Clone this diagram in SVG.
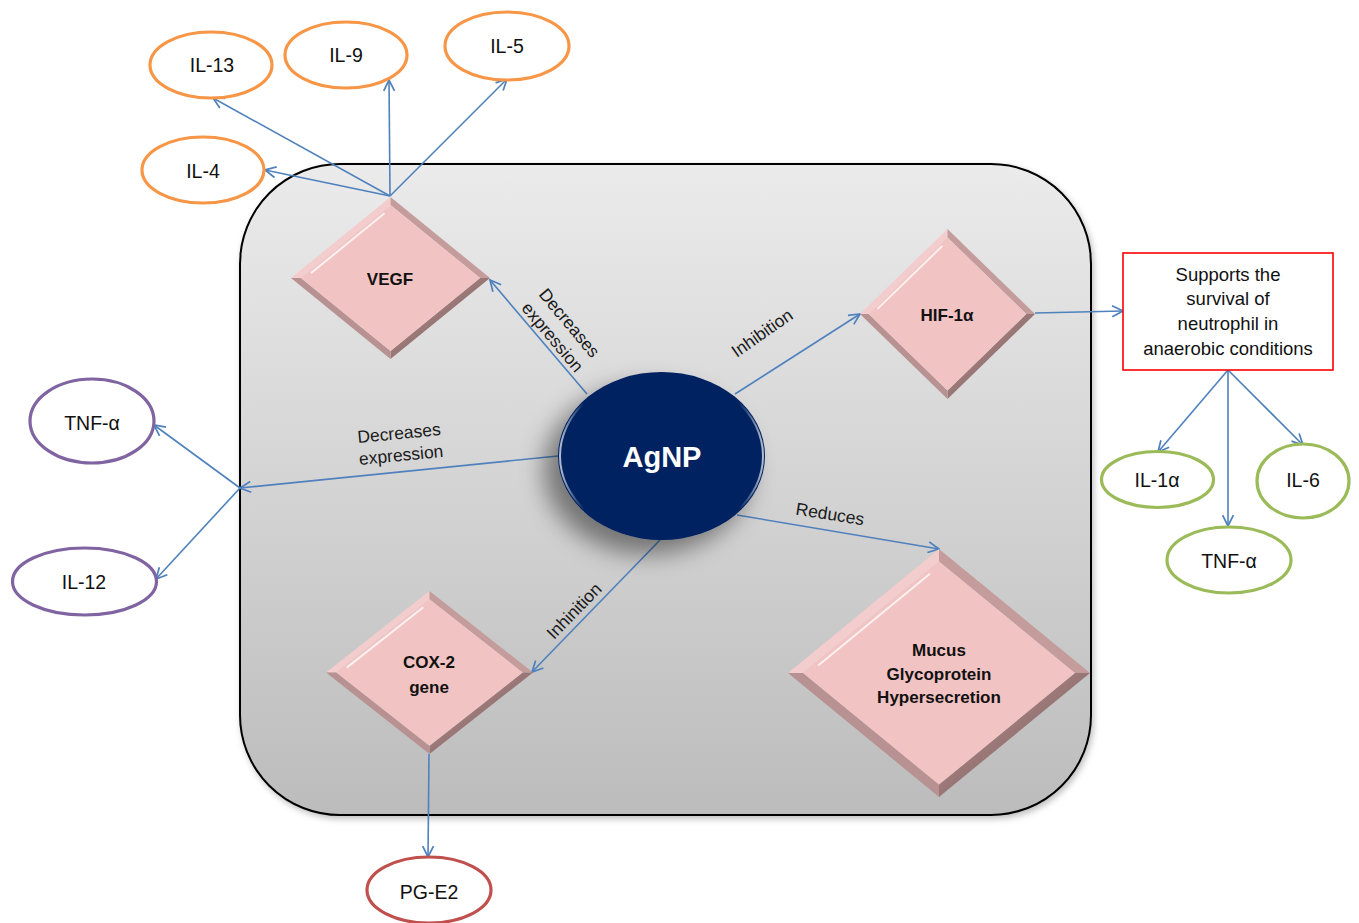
<svg xmlns="http://www.w3.org/2000/svg" xmlns:xlink="http://www.w3.org/1999/xlink" width="1359" height="923" viewBox="0 0 1359 923">
<style>
  text { font-family: "Liberation Sans", Arial, sans-serif; fill: #111; }
  .lbl { font-size: 19.5px; text-anchor: middle; dominant-baseline: central; }
  .bold { font-size: 17px; font-weight: bold; text-anchor: middle; dominant-baseline: central; }
  .edge-lbl { font-size: 17.5px; text-anchor: middle; dominant-baseline: central; fill: #1a1a1a; }
  .box-txt { font-size: 18.5px; text-anchor: middle; dominant-baseline: central; }
  .conn { stroke: #4f81bd; stroke-width: 1.6; fill: none; marker-end: url(#arr); }
  .orange { fill: #fff; stroke: #f79646; stroke-width: 3.2; }
  .purple { fill: #fff; stroke: #8064a2; stroke-width: 3.2; }
  .green { fill: #fff; stroke: #9bbb59; stroke-width: 3.2; }
  .red { fill: #fff; stroke: #c0504d; stroke-width: 3.2; }
</style>
<defs>
  <linearGradient id="bg" x1="0" y1="0" x2="0" y2="1">
    <stop offset="0" stop-color="#ebebeb"/>
    <stop offset="1" stop-color="#bcbcbc"/>
  </linearGradient>
  <linearGradient id="brg" x1="0" y1="0" x2="1" y2="1">
    <stop offset="0" stop-color="#c29b9b"/>
    <stop offset="1" stop-color="#6f5050"/>
  </linearGradient>
  <linearGradient id="rim" x1="0" y1="0" x2="1" y2="0">
    <stop offset="0" stop-color="#ffffff" stop-opacity="0.7"/>
    <stop offset="0.12" stop-color="#ffffff" stop-opacity="0"/>
    <stop offset="0.88" stop-color="#ffffff" stop-opacity="0"/>
    <stop offset="1" stop-color="#ffffff" stop-opacity="0.7"/>
  </linearGradient>
  <filter id="shadow" x="-40%" y="-40%" width="180%" height="180%">
    <feDropShadow dx="-14" dy="14" stdDeviation="12" flood-color="#000" flood-opacity="0.45"/>
  </filter>
  <filter id="soft" x="-10%" y="-10%" width="120%" height="120%">
    <feDropShadow dx="2" dy="3" stdDeviation="3" flood-color="#000" flood-opacity="0.25"/>
  </filter>
  <marker id="arr" viewBox="0 0 12 12" refX="11" refY="6" markerWidth="13" markerHeight="13" markerUnits="userSpaceOnUse" orient="auto">
    <path d="M1,1 L11,6 L1,11" fill="none" stroke="#4f81bd" stroke-width="1.6"/>
  </marker>
  <symbol id="dia" viewBox="-100 -100 200 200" preserveAspectRatio="none" overflow="visible">
    <polygon points="-100,0 0,-100 0,-90 -90,0" fill="#f3cdcd"/>
    <polygon points="0,-100 100,0 90,0 0,-90" fill="#c49c9c"/>
    <polygon points="100,0 0,100 0,90 90,0" fill="url(#brg)"/>
    <polygon points="0,100 -100,0 -90,0 0,90" fill="#b89292"/>
    <polygon points="0,-90 90,0 0,90 -90,0" fill="#f2c3c3"/>
    <line x1="-80" y1="-6" x2="-6" y2="-80" stroke="#ffffff" stroke-opacity="0.75" stroke-width="2" vector-effect="non-scaling-stroke"/>
  </symbol>
</defs>

<rect width="1359" height="923" fill="#ffffff"/>

<g id="cell">
  <rect x="240" y="164" width="851" height="651" rx="100" ry="100" fill="url(#bg)" stroke="#000" stroke-width="2" filter="url(#soft)"/>
</g>

<g id="connectors">
  <line class="conn" x1="587" y1="394" x2="490" y2="280"/>
  <line class="conn" x1="735" y1="394" x2="860" y2="314"/>
  <line class="conn" x1="737" y1="515" x2="939" y2="549"/>
  <line class="conn" x1="660" y1="540" x2="532" y2="672"/>
  <line class="conn" x1="558" y1="456" x2="240" y2="488"/>
  <line class="conn" x1="240" y1="488" x2="154" y2="425"/>
  <line class="conn" x1="240" y1="488" x2="156" y2="579"/>
  <line class="conn" x1="390" y1="196" x2="265" y2="170"/>
  <line class="conn" x1="390" y1="196" x2="213" y2="98"/>
  <line class="conn" x1="390" y1="196" x2="389" y2="80"/>
  <line class="conn" x1="390" y1="196" x2="507" y2="79"/>
  <line class="conn" x1="1035" y1="313" x2="1123" y2="311"/>
  <line class="conn" x1="1228" y1="370" x2="1158" y2="452"/>
  <line class="conn" x1="1228" y1="370" x2="1228" y2="526"/>
  <line class="conn" x1="1228" y1="370" x2="1303" y2="445"/>
  <line class="conn" x1="429" y1="754" x2="428" y2="857"/>
</g>

<g id="edge-labels">
  <text class="edge-lbl" transform="translate(561,330) rotate(50)"><tspan x="0" y="-11">Decreases</tspan><tspan x="0" y="11">expression</tspan></text>
  <text class="edge-lbl" transform="translate(400,444) rotate(-5.5)"><tspan x="0" y="-11">Decreases</tspan><tspan x="0" y="11">expression</tspan></text>
  <text class="edge-lbl" transform="translate(762,333) rotate(-35)">Inhibition</text>
  <text class="edge-lbl" transform="translate(830,514) rotate(9)">Reduces</text>
  <text class="edge-lbl" transform="translate(574,611) rotate(-46)">Inhinition</text>
</g>

<g id="agnp">
  <ellipse cx="661.5" cy="456" rx="103.5" ry="84" fill="#002060" filter="url(#shadow)"/>
  <ellipse cx="661.5" cy="456" rx="101.5" ry="82" fill="none" stroke="url(#rim)" stroke-width="2"/>
  <text x="662" y="457" font-size="29" font-weight="bold" text-anchor="middle" dominant-baseline="central" style="fill:#ffffff">AgNP</text>
</g>

<g id="vegf">
  <use href="#dia" x="291" y="197" width="199" height="162"/>
  <text class="bold" x="390" y="279">VEGF</text>
</g>

<g id="hif">
  <use href="#dia" x="860" y="229" width="175" height="170"/>
  <text class="bold" x="947" y="315">HIF-1α</text>
</g>

<g id="cox2">
  <use href="#dia" x="326" y="591" width="207" height="163"/>
  <text class="bold" x="429" y="662">COX-2</text>
  <text class="bold" x="429" y="687">gene</text>
</g>

<g id="mucus">
  <use href="#dia" x="788" y="549" width="302" height="248"/>
  <text class="bold" x="939" y="650">Mucus</text>
  <text class="bold" x="939" y="674">Glycoprotein</text>
  <text class="bold" x="939" y="697">Hypersecretion</text>
</g>

<g id="il13"><ellipse class="orange" cx="211" cy="65" rx="61" ry="33"/><text class="lbl" x="212" y="65">IL-13</text></g>
<g id="il9"><ellipse class="orange" cx="346" cy="55" rx="61" ry="33"/><text class="lbl" x="346" y="55">IL-9</text></g>
<g id="il5"><ellipse class="orange" cx="507" cy="46" rx="62" ry="34"/><text class="lbl" x="507" y="46">IL-5</text></g>
<g id="il4"><ellipse class="orange" cx="203" cy="170" rx="61" ry="33"/><text class="lbl" x="203" y="171">IL-4</text></g>

<g id="tnf-left"><ellipse class="purple" cx="92" cy="421" rx="62" ry="42"/><text class="lbl" x="92" y="423">TNF-α</text></g>
<g id="il12"><ellipse class="purple" cx="84.5" cy="581.5" rx="72" ry="33.5"/><text class="lbl" x="84" y="582">IL-12</text></g>

<g id="pge2"><ellipse class="red" cx="429" cy="890" rx="62" ry="33"/><text class="lbl" x="429" y="892">PG-E2</text></g>

<g id="neutrophil-box">
  <rect x="1123" y="253" width="210" height="117" fill="#fff" stroke="#ff0000" stroke-width="1.6"/>
  <text class="box-txt" x="1228" y="274">Supports the</text>
  <text class="box-txt" x="1228" y="298">survival of</text>
  <text class="box-txt" x="1228" y="323">neutrophil in</text>
  <text class="box-txt" x="1228" y="348">anaerobic conditions</text>
</g>

<g id="il1a"><ellipse class="green" cx="1157.5" cy="479.5" rx="56" ry="28"/><text class="lbl" x="1157" y="480">IL-1α</text></g>
<g id="il6"><ellipse class="green" cx="1303" cy="481" rx="46" ry="37"/><text class="lbl" x="1303" y="480">IL-6</text></g>
<g id="tnf-right"><ellipse class="green" cx="1229" cy="560" rx="62" ry="33"/><text class="lbl" x="1229" y="561">TNF-α</text></g>
</svg>
